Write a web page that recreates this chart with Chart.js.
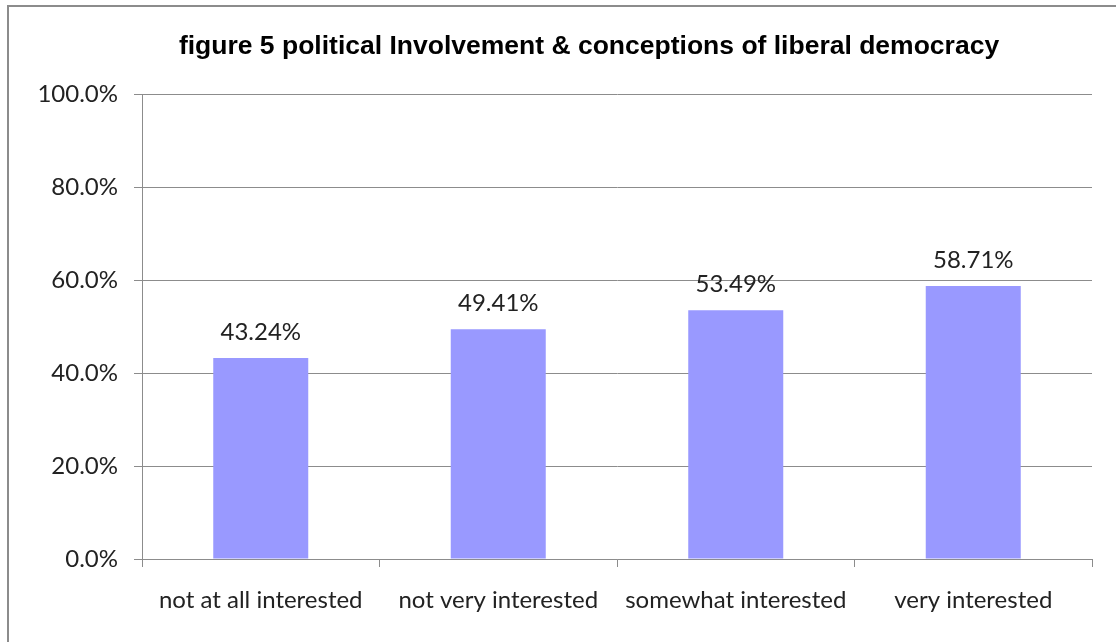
<!DOCTYPE html>
<html>
<head>
<meta charset="utf-8">
<script src="https://cdn.jsdelivr.net/npm/chart.js@4.4.0/dist/chart.umd.min.js"></script>
<style>
html,body{margin:0;padding:0;background:#fff;}
#wrap{position:relative;width:1116px;height:642px;}
canvas{display:block;}
</style>
</head>
<body>
<div id="wrap"><canvas id="c" width="1116" height="642"></canvas></div>
<script>
const categories = ["not at all interested", "not very interested", "somewhat interested", "very interested"];
const values = [43.24, 49.41, 53.49, 58.71];
const valueLabels = ["43.24%", "49.41%", "53.49%", "58.71%"];
const yTicks = [0, 20, 40, 60, 80, 100];
const titleText = "figure 5 political Involvement & conceptions of liberal democracy";

const LABEL_FONT = "Lato";

const framePlugin = {
  id: 'frame',
  beforeDraw(chart) {
    const ctx = chart.ctx;
    ctx.save();
    ctx.fillStyle = '#fff';
    ctx.fillRect(0, 0, chart.width, chart.height);
    ctx.strokeStyle = '#8c8c8c';
    ctx.lineWidth = 2;
    ctx.beginPath();
    ctx.moveTo(8, 642);
    ctx.lineTo(8, 6);
    ctx.lineTo(1116, 6);
    ctx.stroke();
    ctx.restore();
  },
  afterDraw(chart) {
    const ctx = chart.ctx;
    ctx.save();
    ctx.fillStyle = '#000';
    ctx.font = 'bold 26.5px "Liberation Sans", Arial, sans-serif';
    ctx.textAlign = 'center';
    ctx.textBaseline = 'alphabetic';
    ctx.fillText(titleText, 589, 54);
    // data labels
    const meta = chart.getDatasetMeta(0);
    ctx.font = '24px ' + LABEL_FONT;
    ctx.fillStyle = '#222';
    ctx.textBaseline = 'middle';
    meta.data.forEach((bar, i) => {
      ctx.fillText(valueLabels[i], bar.x, bar.y - 26);
    });
    ctx.restore();
  }
};

new Chart(document.getElementById('c'), {
  type: 'bar',
  data: {
    labels: categories,
    datasets: [{
      data: values,
      backgroundColor: '#9999ff',
      borderWidth: 0,
      categoryPercentage: 1.0,
      barPercentage: 0.4
    }]
  },
  options: {
    responsive: false,
    animation: false,
    devicePixelRatio: 1,
    layout: { padding: { top: 94, right: 24, left: 0, bottom: 0 } },
    plugins: { legend: { display: false }, title: { display: false }, tooltip: { enabled: false } },
    scales: {
      x: {
        grid: { display: true, drawOnChartArea: false, drawTicks: true, tickLength: 8, color: '#8c8c8c', offset: true },
        border: { display: true, color: '#8c8c8c', width: 1 },
        ticks: { color: '#222', font: { family: LABEL_FONT, size: 24 }, padding: 19, maxRotation: 0, autoSkip: false },
        afterFit(scale) { scale.height = 83; }
      },
      y: {
        min: 0, max: 100,
        afterBuildTicks(scale) { scale.ticks = yTicks.map(v => ({ value: v })); },
        grid: { color: '#8c8c8c', tickLength: 8, drawTicks: true },
        border: { display: true, color: '#8c8c8c', width: 1 },
        ticks: { color: '#222', font: { family: LABEL_FONT, size: 24 }, padding: 16, callback: v => v.toFixed(1) + '%' },
        afterFit(scale) { scale.width = 142; }
      }
    }
  },
  plugins: [framePlugin]
});
</script>
</body>
</html>
